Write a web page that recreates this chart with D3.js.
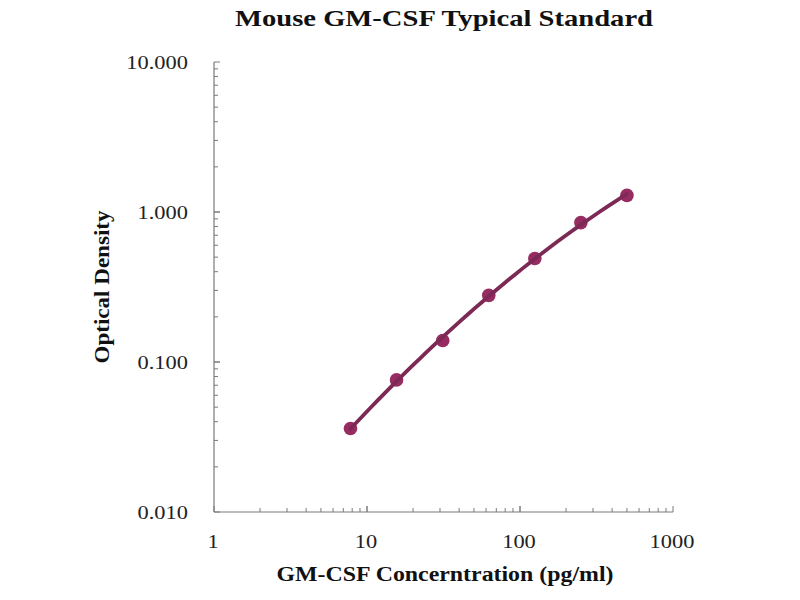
<!DOCTYPE html>
<html><head><meta charset="utf-8">
<script src="https://cdn.jsdelivr.net/npm/d3@7"></script>
<style>body{margin:0;background:#fff}svg{display:block}</style>
</head><body>
<svg id="c" width="800" height="600"></svg>
<script>
const concentrations = [7.8, 15.6, 31.25, 62.5, 125, 250, 500];
const opticalDensity = [0.036, 0.076, 0.139, 0.278, 0.49, 0.85, 1.29];
const xTickValues = [1, 10, 100, 1000];
const xTickLabels = ["1", "10", "100", "1000"];
const yTickValues = [10, 1, 0.1, 0.01];
const yTickLabels = ["10.000", "1.000", "0.100", "0.010"];
const titleText = "Mouse GM-CSF Typical Standard";
const xTitle = "GM-CSF Concerntration (pg/ml)";
const yTitle = "Optical Density";

const svg = d3.select("#c");
const x = d3.scaleLog().domain([1, 1000]).range([214, 673]);
const y = d3.scaleLog().domain([0.01, 10]).range([512, 62]);
const axisColor = "#7a7a7a";
const serif = "'Liberation Serif','Times New Roman',serif";

function stretch(sel, factor) {
  sel.each(function () {
    const w = this.getComputedTextLength();
    d3.select(this).attr("textLength", w * factor).attr("lengthAdjust", "spacingAndGlyphs");
  });
}

const xMinor = [], yMinor = [];
for (let d = 1; d < 1000; d *= 10) for (let k = 1; k <= 10; k++) xMinor.push(d * k);
for (let d = 0.01; d < 9; d *= 10) for (let k = 1; k <= 10; k++) yMinor.push(+(d * k).toPrecision(3));

const g = svg.append("g");
g.append("line").attr("x1", x(1)).attr("x2", x(1000)).attr("y1", y(0.01)).attr("y2", y(0.01))
  .attr("stroke", axisColor).attr("stroke-width", 1.2);
g.append("line").attr("x1", x(1)).attr("x2", x(1)).attr("y1", y(0.01)).attr("y2", y(10))
  .attr("stroke", axisColor).attr("stroke-width", 1.2);

g.selectAll(".xt").data(xMinor).enter().append("line")
  .attr("x1", d => x(d)).attr("x2", d => x(d))
  .attr("y1", y(0.01)).attr("y2", d => y(0.01) - (xTickValues.includes(d) ? 6 : 4))
  .attr("stroke", axisColor).attr("stroke-width", 1);
g.selectAll(".yt").data(yMinor).enter().append("line")
  .attr("y1", d => y(d)).attr("y2", d => y(d))
  .attr("x1", x(1)).attr("x2", d => x(1) + ([0.01,0.1,1,10].some(v => Math.abs(v - d) < 1e-9) ? 6 : 4))
  .attr("stroke", axisColor).attr("stroke-width", 1);

const xl = svg.selectAll(".xl").data(xTickValues).enter().append("text")
  .attr("x", d => x(d) - 1).attr("y", 548).attr("text-anchor", "middle")
  .attr("font-family", serif).attr("font-size", 19).attr("fill", "#222")
  .text((d, i) => xTickLabels[i]);
stretch(xl, 1.18);
const yl = svg.selectAll(".yl").data(yTickValues).enter().append("text")
  .attr("x", 188).attr("y", d => y(d) + 6.5).attr("text-anchor", "end")
  .attr("font-family", serif).attr("font-size", 19).attr("fill", "#222")
  .text((d, i) => yTickLabels[i]);
stretch(yl, 1.18);

svg.append("text").attr("x", 444).attr("y", 26).attr("text-anchor", "middle")
  .attr("font-family", serif).attr("font-weight", "bold").attr("font-size", 24).attr("fill", "#111")
  .attr("textLength", 418).attr("lengthAdjust", "spacingAndGlyphs").text(titleText);
svg.append("text").attr("x", 445).attr("y", 581).attr("text-anchor", "middle")
  .attr("font-family", serif).attr("font-weight", "bold").attr("font-size", 20).attr("fill", "#111")
  .attr("textLength", 337).attr("lengthAdjust", "spacingAndGlyphs").text(xTitle);
svg.append("text").attr("transform", "translate(109,287) rotate(-90)").attr("text-anchor", "middle")
  .attr("font-family", serif).attr("font-weight", "bold").attr("font-size", 20).attr("fill", "#111")
  .attr("textLength", 153).attr("lengthAdjust", "spacingAndGlyphs").text(yTitle);

// quadratic trendline in log-log space (least squares)
const lx = concentrations.map(Math.log10), ly = opticalDensity.map(Math.log10);
function solve3(A, B) {
  const M = A.map((r, i) => [...r, B[i]]);
  for (let i = 0; i < 3; i++) {
    let p = i; for (let k = i + 1; k < 3; k++) if (Math.abs(M[k][i]) > Math.abs(M[p][i])) p = k;
    [M[i], M[p]] = [M[p], M[i]];
    for (let k = i + 1; k < 3; k++) { const f = M[k][i] / M[i][i]; for (let j = i; j < 4; j++) M[k][j] -= f * M[i][j]; }
  }
  const s = [0, 0, 0];
  for (let i = 2; i >= 0; i--) { let v = M[i][3]; for (let j = i + 1; j < 3; j++) v -= M[i][j] * s[j]; s[i] = v / M[i][i]; }
  return s;
}
const S = k => d3.sum(lx, v => v ** k);
const T = k => d3.sum(lx.map((v, i) => v ** k * ly[i]));
const coef = solve3([[S(0), S(1), S(2)], [S(1), S(2), S(3)], [S(2), S(3), S(4)]], [T(0), T(1), T(2)]);
const x0 = lx[0], x1 = lx[lx.length - 1];
const fit = d3.range(0, 41).map(i => {
  const u = x0 + (x1 - x0) * i / 40;
  return [Math.pow(10, u), Math.pow(10, coef[0] + coef[1] * u + coef[2] * u * u)];
});

const pts = concentrations.map((c, i) => [c, opticalDensity[i]]);
svg.selectAll(".pt").data(pts).enter().append("circle")
  .attr("cx", d => x(d[0])).attr("cy", d => y(d[1])).attr("r", 6.8)
  .attr("fill", "#962c61");
svg.append("path").datum(fit)
  .attr("d", d3.line().x(d => x(d[0])).y(d => y(d[1])).curve(d3.curveMonotoneX))
  .attr("stroke", "#7c2955").attr("stroke-width", 3.8).attr("fill", "none").attr("stroke-linecap", "round");
</script>
</body></html>
